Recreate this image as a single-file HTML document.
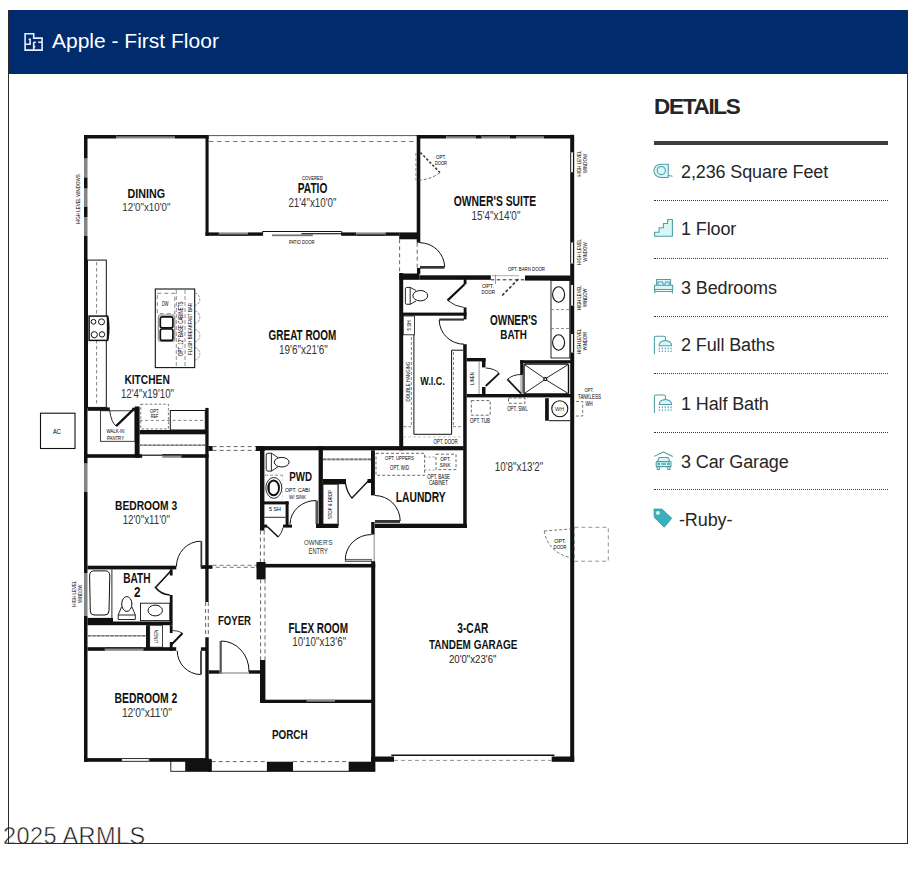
<!DOCTYPE html>
<html><head><meta charset="utf-8">
<style>
html,body{margin:0;padding:0;background:#fff;width:920px;height:874px;overflow:hidden;position:relative;font-family:"Liberation Sans",sans-serif;}
#card{position:absolute;z-index:5;left:8px;top:10px;width:898px;height:833px;border:1px solid #2b2b2b;border-top:none;}
#hdr{position:absolute;left:8px;top:10px;width:900px;height:64px;background:#002c6e;}
#hdr .t{position:absolute;left:44px;top:19px;font-size:21px;color:#fff;line-height:24px;white-space:nowrap;}
#hdr svg{position:absolute;left:15px;top:22px;}
#det{position:absolute;left:0;top:0;}
.h{position:absolute;left:654px;top:94px;font-size:22.5px;font-weight:bold;color:#262626;letter-spacing:-1.3px;line-height:26px;}
.rule{position:absolute;left:654px;top:141px;width:234px;height:3.5px;background:#3a3f45;}
.dot{position:absolute;left:654px;width:234px;height:0;border-top:1.3px dotted #3a3a3a;}
.row{position:absolute;left:681px;font-size:18px;color:#262626;line-height:20px;white-space:nowrap;letter-spacing:-0.12px;}
.ic{position:absolute;left:653px;}
#plan{position:absolute;left:0;top:0;}
.wm{position:absolute;left:3px;top:822.5px;font-size:23.5px;letter-spacing:0.4px;line-height:27px;color:#1a1a1a;white-space:nowrap;-webkit-text-stroke:0.5px #fff;}
</style></head>
<body>
<div id="card"></div>
<div id="hdr">
<svg width="22" height="22" viewBox="0 0 22 22"><path d="M2.1 1.8H10.7V6.1H19.1V18.1H2.1Z M2.1 12.2H7.1V7.2H5.6 M10.7 10.3V18.1 M10.7 10.3H12.8 M15.2 10.3H19.1 M10.7 14.6H12.2" fill="none" stroke="#e8eefc" stroke-width="1.6"/></svg>
<div class="t">Apple - First Floor</div>
</div>

<div class="h">DETAILS</div>
<div class="rule"></div>
<div class="dot" style="top:200px"></div>
<div class="dot" style="top:258px"></div>
<div class="dot" style="top:316px"></div>
<div class="dot" style="top:373px"></div>
<div class="dot" style="top:432px"></div>
<div class="dot" style="top:489px"></div>
<div class="row" style="top:162px">2,236 Square Feet</div>
<div class="row" style="top:219px">1 Floor</div>
<div class="row" style="top:278px">3 Bedrooms</div>
<div class="row" style="top:335px">2 Full Baths</div>
<div class="row" style="top:394px">1 Half Bath</div>
<div class="row" style="top:452px">3 Car Garage</div>
<div class="row" style="top:510px;left:679px">-Ruby-</div>

<svg style="position:absolute;left:0;top:0" width="920" height="874" viewBox="0 0 920 874">
<g fill="#d6f6f8" stroke="#4d9ea5" stroke-width="1.05" stroke-linejoin="round">
<path d="M668.3 164.2 H660.5 A6.6 6.6 0 0 0 660.5 177.4 H668.3 Z"/>
<circle cx="661.3" cy="170.6" r="4.1" fill="none"/>
<path d="M668.3 175.5 L672.6 176.2" fill="none"/>
<path d="M654.6 236.3 V232.3 H659.1 V227.7 H663.4 V223.5 H667.6 V219.5 H672.4 V236.3 Z"/>
<path d="M656.6 285.2 V279.5 H670.6 V285.2"/>
<path d="M658 284.8 V282 H662.6 L663.4 284.8 M664.8 284.8 L665.6 282 H669.2 V284.8" fill="none"/>
<rect x="654.5" y="285.2" width="18.2" height="4.2"/>
<path d="M654.5 291.4 H672.7 M654.8 289.4 V293.4 M672.4 289.4 V293.4" fill="none"/>
<path d="M654.4 354.3 V337.5 Q654.4 336.3 655.6 336.3 H664.2 Q665.4 336.3 665.4 337.5 V340.4" fill="none"/>
<path d="M659.1 345.7 Q659.5 341 665.4 340.6 Q671.3 341 671.7 345.7 Z"/>
<g transform="translate(0,58.8)"><path d="M654.4 354.3 V337.5 Q654.4 336.3 655.6 336.3 H664.2 Q665.4 336.3 665.4 337.5 V340.4" fill="none"/>
<path d="M659.1 345.7 Q659.5 341 665.4 340.6 Q671.3 341 671.7 345.7 Z"/></g>
</g>
<g fill="#4d9ea5">
<rect x="658.8" y="347.6" width="1.1" height="1.8"/><rect x="661.8" y="347.6" width="1.1" height="1.8"/><rect x="664.7" y="347.6" width="1.1" height="1.8"/><rect x="667.7" y="347.6" width="1.1" height="1.8"/><rect x="670.5" y="347.6" width="1.1" height="1.8"/>
<rect x="658.8" y="350.6" width="1.1" height="1.4"/><rect x="661.8" y="350.6" width="1.1" height="1.4"/><rect x="664.7" y="350.6" width="1.1" height="1.4"/><rect x="667.7" y="350.6" width="1.1" height="1.4"/><rect x="670.5" y="350.6" width="1.1" height="1.4"/>
<g transform="translate(0,58.8)"><rect x="658.8" y="347.6" width="1.1" height="1.8"/><rect x="661.8" y="347.6" width="1.1" height="1.8"/><rect x="664.7" y="347.6" width="1.1" height="1.8"/><rect x="667.7" y="347.6" width="1.1" height="1.8"/><rect x="670.5" y="347.6" width="1.1" height="1.8"/>
<rect x="658.8" y="350.6" width="1.1" height="1.4"/><rect x="661.8" y="350.6" width="1.1" height="1.4"/><rect x="664.7" y="350.6" width="1.1" height="1.4"/><rect x="667.7" y="350.6" width="1.1" height="1.4"/><rect x="670.5" y="350.6" width="1.1" height="1.4"/></g>
</g>
<g fill="#d6f6f8" stroke="#4d9ea5" stroke-width="1.05" stroke-linejoin="round">
<path d="M654.2 456.4 L663.4 452 L672.8 456.4" fill="none"/>
<path d="M657.6 461.7 L658.6 458.2 Q659 457.4 660 457.4 H667.2 Q668.2 457.4 668.6 458.2 L669.6 461.7"/>
<path d="M656.2 462.2 Q656.2 461.6 657 461.6 H670.2 Q671 461.6 671 462.2 V466.6 H656.2 Z"/>
<path d="M657.2 466.6 V469.4 H659.4 V466.6 M667.8 466.6 V469.4 H670 V466.6" fill="none"/>
<circle cx="658.7" cy="464.1" r="0.9" fill="none"/><circle cx="668.5" cy="464.1" r="0.9" fill="none"/>
<path d="M661.2 464 H666" fill="none" stroke-width="1.4"/>
</g>
<path d="M654.1 509 L661.9 509.1 L671.8 518.2 L664.3 527.2 L654.2 517.4 Z" fill="#3daebd" stroke="#2f9aa6" stroke-width="0.8" stroke-linejoin="round"/>
<circle cx="657.9" cy="512.9" r="1.9" fill="#d4fbf6"/>
</svg>


<svg id="plan" width="920" height="874" viewBox="0 0 920 874">
<g>
<rect x="84.0" y="135.0" width="32.6" height="3.5" fill="#111"/>
<rect x="116.6" y="135.0" width="58.3" height="3.5" fill="#8a8a8a"/>
<rect x="116.6" y="135.0" width="58.3" height="1.3" fill="#111"/>
<rect x="174.9" y="135.0" width="33.7" height="3.5" fill="#111"/>
<line x1="208.6" y1="135.6" x2="417.0" y2="135.6" stroke="#555" stroke-width="1"/>
<rect x="417.0" y="135.0" width="29.4" height="3.5" fill="#111"/>
<rect x="446.4" y="135.0" width="29.3" height="3.5" fill="#8a8a8a"/>
<rect x="446.4" y="135.0" width="29.3" height="1.3" fill="#111"/>
<rect x="475.7" y="135.0" width="6.0" height="3.5" fill="#111"/>
<rect x="481.7" y="135.0" width="28.3" height="3.5" fill="#8a8a8a"/>
<rect x="481.7" y="135.0" width="28.3" height="1.3" fill="#111"/>
<rect x="510.0" y="135.0" width="6.0" height="3.5" fill="#111"/>
<rect x="516.0" y="135.0" width="28.0" height="3.5" fill="#8a8a8a"/>
<rect x="516.0" y="135.0" width="28.0" height="1.3" fill="#111"/>
<rect x="544.0" y="135.0" width="29.8" height="3.5" fill="#111"/>
<rect x="84.0" y="135.0" width="3.5" height="23.6" fill="#111"/>
<rect x="84.0" y="158.6" width="3.5" height="18.9" fill="#858585"/>
<rect x="84.0" y="177.5" width="3.5" height="11.1" fill="#111"/>
<rect x="84.0" y="188.6" width="3.5" height="18.1" fill="#858585"/>
<rect x="84.0" y="206.7" width="3.5" height="10.3" fill="#111"/>
<rect x="84.0" y="217.0" width="3.5" height="18.8" fill="#858585"/>
<rect x="84.0" y="235.8" width="3.5" height="227.8" fill="#111"/>
<rect x="84.0" y="463.6" width="3.5" height="28.4" fill="#858585"/>
<rect x="84.0" y="492.0" width="3.5" height="81.0" fill="#111"/>
<rect x="84.0" y="573.0" width="3.5" height="43.0" fill="#858585"/>
<rect x="84.0" y="616.0" width="3.5" height="145.8" fill="#111"/>
<rect x="84.0" y="758.1" width="37.0" height="3.7" fill="#111"/>
<rect x="121.5" y="758.6" width="27.7" height="2.7" fill="none" stroke="#111" stroke-width="0.9"/>
<rect x="149.6" y="758.1" width="59.1" height="3.7" fill="#111"/>
<rect x="570.2" y="134.8" width="4.0" height="17.8" fill="#111"/>
<rect x="570.2" y="152.6" width="1.2" height="19.6" fill="#111"/>
<rect x="573.0" y="152.6" width="1.2" height="19.6" fill="#111"/>
<rect x="571.4" y="152.6" width="1.6" height="19.6" fill="#f2f2f2"/>
<rect x="570.2" y="172.2" width="4.0" height="70.5" fill="#111"/>
<rect x="570.2" y="242.7" width="1.2" height="20.8" fill="#111"/>
<rect x="573.0" y="242.7" width="1.2" height="20.8" fill="#111"/>
<rect x="571.4" y="242.7" width="1.6" height="20.8" fill="#f2f2f2"/>
<rect x="570.2" y="263.5" width="4.0" height="21.5" fill="#111"/>
<rect x="570.2" y="285.0" width="1.2" height="20.5" fill="#111"/>
<rect x="573.0" y="285.0" width="1.2" height="20.5" fill="#111"/>
<rect x="571.4" y="285.0" width="1.6" height="20.5" fill="#f2f2f2"/>
<rect x="570.2" y="305.5" width="4.0" height="28.5" fill="#111"/>
<rect x="570.2" y="334.0" width="1.2" height="18.5" fill="#111"/>
<rect x="573.0" y="334.0" width="1.2" height="18.5" fill="#111"/>
<rect x="571.4" y="334.0" width="1.6" height="18.5" fill="#f2f2f2"/>
<rect x="570.2" y="352.5" width="4.0" height="409.3" fill="#111"/>
<rect x="371.0" y="756.5" width="23.0" height="5.3" fill="#111"/>
<rect x="551.7" y="756.5" width="22.5" height="5.3" fill="#111"/>
<line x1="391.3" y1="755.2" x2="554.4" y2="755.2" stroke="#111" stroke-width="1.6"/>
<line x1="394.0" y1="760.4" x2="551.7" y2="760.4" stroke="#777" stroke-width="0.8" stroke-dasharray="4 3"/>
<rect x="371.2" y="522.0" width="3.4" height="12.6" fill="#111"/>
<rect x="371.2" y="561.2" width="4.0" height="210.0" fill="#111"/>
<line x1="374.2" y1="534.6" x2="374.2" y2="561.2" stroke="#666" stroke-width="0.8"/>
<rect x="345.3" y="559.3" width="26.2" height="2.2" fill="#bbb" stroke="#333" stroke-width="0.7"/>
<path d="M371.3 534.6 A26 25 0 0 0 345.3 559.5" stroke="#111" stroke-width="1" fill="none"/>
<rect x="205.3" y="637.3" width="3.4" height="133.9" fill="#111"/>
<rect x="170.8" y="759.3" width="40.2" height="12.0" fill="none" stroke="#111" stroke-width="0.9"/>
<rect x="185.2" y="759.5" width="26.5" height="11.7" fill="#111"/>
<rect x="266.9" y="761.7" width="26.1" height="9.5" fill="#111"/>
<rect x="348.7" y="761.7" width="26.5" height="9.5" fill="#111"/>
<line x1="211.7" y1="761.6" x2="266.9" y2="761.6" stroke="#555" stroke-width="0.9" stroke-dasharray="4 3"/>
<line x1="293.0" y1="761.6" x2="348.7" y2="761.6" stroke="#555" stroke-width="0.9" stroke-dasharray="4 3"/>
<line x1="208.0" y1="771.3" x2="375.2" y2="771.3" stroke="#111" stroke-width="1"/>
<rect x="208.7" y="670.3" width="10.9" height="3.4" fill="#111"/>
<rect x="249.0" y="670.3" width="11.7" height="3.4" fill="#111"/>
<rect x="219.6" y="641.0" width="2.2" height="32.7" fill="#555"/>
<path d="M221 641 A28 30 0 0 1 249 672" stroke="#111" stroke-width="1" fill="none"/>
<line x1="219.6" y1="673.0" x2="249.0" y2="673.0" stroke="#777" stroke-width="1"/>
<rect x="256.5" y="563.9" width="118.7" height="3.6" fill="#111"/>
<rect x="256.5" y="562.0" width="9.1" height="17.4" fill="#111"/>
<line x1="260.6" y1="579.4" x2="260.6" y2="660.0" stroke="#555" stroke-width="0.9" stroke-dasharray="4 3"/>
<line x1="265.0" y1="579.4" x2="265.0" y2="660.0" stroke="#555" stroke-width="0.9" stroke-dasharray="4 3"/>
<rect x="260.0" y="660.0" width="5.4" height="43.0" fill="#111"/>
<rect x="260.0" y="699.7" width="112.0" height="3.3" fill="#111"/>
<rect x="306.6" y="699.7" width="28.4" height="3.3" fill="#8a8a8a"/>
<rect x="306.6" y="701.7" width="28.4" height="1.3" fill="#111"/>
<line x1="208.7" y1="567.3" x2="256.5" y2="567.3" stroke="#666" stroke-width="0.9" stroke-dasharray="4 3"/>
<rect x="205.3" y="407.9" width="3.3" height="194.1" fill="#111"/>
<line x1="205.6" y1="602.0" x2="205.6" y2="637.3" stroke="#555" stroke-width="0.9" stroke-dasharray="4 3"/>
<line x1="208.3" y1="602.0" x2="208.3" y2="637.3" stroke="#555" stroke-width="0.9" stroke-dasharray="4 3"/>
<rect x="200.8" y="565.2" width="11.6" height="3.6" fill="#111"/>
<line x1="212.5" y1="565.3" x2="256.5" y2="565.3" stroke="#666" stroke-width="0.9" stroke-dasharray="4 3"/>
<rect x="84.0" y="454.2" width="58.2" height="3.6" fill="#111"/>
<line x1="142.2" y1="455.2" x2="162.2" y2="455.2" stroke="#111" stroke-width="1.2"/>
<rect x="162.2" y="454.2" width="19.1" height="3.6" fill="#8a8a8a"/>
<rect x="162.2" y="454.2" width="19.1" height="1.3" fill="#111"/>
<rect x="181.3" y="454.2" width="27.3" height="3.6" fill="#111"/>
<rect x="87.5" y="565.7" width="88.8" height="3.7" fill="#111"/>
<rect x="200.5" y="541.2" width="1.7" height="25.8" fill="#333"/>
<path d="M176.4 566.5 A24.5 25.5 0 0 1 200.8 541.2" stroke="#111" stroke-width="1" fill="none"/>
<rect x="169.8" y="569.4" width="2.8" height="6.1" fill="#111"/>
<rect x="169.8" y="595.0" width="2.8" height="30.2" fill="#111"/>
<path d="M171.7 570 L155.5 587.5 A20 20 0 0 0 169.8 595" stroke="#111" stroke-width="1.6" fill="none"/>
<rect x="87.5" y="617.9" width="25.5" height="7.3" fill="#111"/>
<rect x="113.0" y="621.5" width="58.7" height="3.7" fill="#111"/>
<line x1="111.9" y1="569.4" x2="111.9" y2="617.9" stroke="#111" stroke-width="0.9"/>
<path d="M93.5 570.9 H105.5 Q109.8 571 109.8 576 L109 611 Q108.8 615 105 615 H94 Q90.4 615 90.3 611 L89.6 576 Q89.6 571 93.5 570.9 Z" stroke="#111" stroke-width="1" fill="none"/>
<ellipse cx="126.8" cy="604" rx="5.1" ry="7.4" fill="none" stroke="#111" stroke-width="1"/>
<path d="M121.5 607 L118.2 615 V619.5 H135.3 V615 L132 607 M118.2 615 H135.3" stroke="#111" stroke-width="0.9" fill="none"/>
<rect x="140.5" y="603.2" width="29.3" height="17.4" fill="none" stroke="#111" stroke-width="0.9"/>
<ellipse cx="155.2" cy="610.5" rx="7.2" ry="5.4" fill="none" stroke="#111" stroke-width="1"/>
<rect x="146.0" y="625.2" width="3.7" height="23.8" fill="#111"/>
<line x1="88.0" y1="635.8" x2="146.0" y2="635.8" stroke="#aaa" stroke-width="1.6"/>
<line x1="88.0" y1="635.8" x2="146.0" y2="635.8" stroke="#777" stroke-width="1.6" stroke-dasharray="3 1.5"/>
<rect x="149.7" y="625.2" width="12.8" height="22.0" fill="none" stroke="#111" stroke-width="0.8"/>
<rect x="169.8" y="625.2" width="2.8" height="7.8" fill="#111"/>
<rect x="169.8" y="642.0" width="2.8" height="8.8" fill="#111"/>
<line x1="170.8" y1="645.2" x2="182.5" y2="633.2" stroke="#111" stroke-width="2"/>
<path d="M172.6 630.5 Q178.5 630.5 182.5 633.2" stroke="#111" stroke-width="0.8" fill="none"/>
<rect x="87.5" y="647.2" width="17.4" height="3.6" fill="#111"/>
<rect x="104.9" y="647.2" width="38.4" height="3.6" fill="#8a8a8a"/>
<rect x="104.9" y="647.2" width="38.4" height="1.3" fill="#111"/>
<rect x="143.3" y="647.2" width="32.9" height="3.6" fill="#111"/>
<rect x="200.2" y="650.8" width="1.6" height="23.8" fill="#222"/>
<rect x="200.9" y="647.3" width="5.6" height="3.5" fill="#111"/>
<path d="M177.2 650.8 A24 24 0 0 0 200.6 674.6" stroke="#111" stroke-width="1" fill="none"/>
<rect x="87.5" y="407.4" width="22.3" height="3.4" fill="#111"/>
<rect x="134.7" y="406.5" width="4.9" height="51.3" fill="#111"/>
<rect x="100.4" y="410.8" width="34.6" height="30.5" fill="none" stroke="#111" stroke-width="0.8"/>
<path d="M109.7 410.5 Q111 422 116.1 426.1" stroke="#111" stroke-width="0.9" fill="none"/>
<line x1="116.1" y1="426.1" x2="133.7" y2="409.1" stroke="#111" stroke-width="2.2"/>
<rect x="132.3" y="407.7" width="6.4" height="2.8" fill="#111"/>
<rect x="170.3" y="410.5" width="35.0" height="19.5" fill="none" stroke="#111" stroke-width="1"/>
<rect x="140.8" y="404.2" width="27.6" height="24.7" fill="none" stroke="#555" stroke-width="0.8" stroke-dasharray="2.5 2"/>
<line x1="139.6" y1="420.4" x2="205.3" y2="420.4" stroke="#666" stroke-width="0.8" stroke-dasharray="3 2.5"/>
<rect x="139.6" y="430.0" width="66.9" height="4.3" fill="#111"/>
<line x1="139.4" y1="445.3" x2="205.1" y2="445.3" stroke="#aaa" stroke-width="1.6"/>
<line x1="139.4" y1="445.3" x2="205.1" y2="445.3" stroke="#777" stroke-width="1.6" stroke-dasharray="3 1.5"/>
<rect x="87.5" y="260.1" width="18.8" height="147.3" fill="none" stroke="#111" stroke-width="1"/>
<line x1="96.6" y1="262.0" x2="96.6" y2="405.0" stroke="#666" stroke-width="0.8" stroke-dasharray="3.5 2.5"/>
<rect x="89.1" y="316.1" width="18.5" height="24.3" fill="#fff" stroke="#111" stroke-width="1.5"/>
<path d="M107.6 317 Q109.6 328 107.6 339.5" stroke="#111" stroke-width="2" fill="none"/>
<circle cx="93.5" cy="321.8" r="2.4" fill="none" stroke="#111" stroke-width="1"/>
<circle cx="101.5" cy="321.8" r="3" fill="none" stroke="#111" stroke-width="1"/>
<circle cx="94.3" cy="334.7" r="3.1" fill="none" stroke="#111" stroke-width="1"/>
<circle cx="102" cy="334.4" r="2.7" fill="none" stroke="#111" stroke-width="1"/>
<rect x="155.3" y="289.0" width="39.4" height="78.6" fill="none" stroke="#111" stroke-width="1.1"/>
<rect x="157.3" y="293.3" width="17.5" height="20.4" fill="none" stroke="#666" stroke-width="0.8" stroke-dasharray="4 3"/>
<path d="M160.3 315.1 H172.8 Q174.8 315.1 174.8 317.1 V339.4 Q174.8 341.4 172.8 341.4 H160.3 Q158.3 341.4 158.3 339.4 V317.1 Q158.3 315.1 160.3 315.1 Z" stroke="#555" stroke-width="0.8" fill="none"/>
<path d="M162.2 316.8 H171 Q172.9 316.8 172.9 318.7 V325.9 Q172.9 327.8 171 327.8 H162.2 Q160.3 327.8 160.3 325.9 V318.7 Q160.3 316.8 162.2 316.8 Z" stroke="#111" stroke-width="1.7" fill="none"/>
<path d="M162.2 329 H171 Q172.9 329 172.9 330.9 V338.5 Q172.9 340.4 171 340.4 H162.2 Q160.3 340.4 160.3 338.5 V330.9 Q160.3 329 162.2 329 Z" stroke="#111" stroke-width="1.7" fill="none"/>
<line x1="176.3" y1="290.0" x2="176.3" y2="367.0" stroke="#777" stroke-width="0.8" stroke-dasharray="4 2"/>
<line x1="185.0" y1="290.0" x2="185.0" y2="367.0" stroke="#777" stroke-width="0.8" stroke-dasharray="4 2"/>
<path d="M194.9 293.0 A6.5 6.5 0 0 1 194.9 305.6" stroke="#777" stroke-width="0.8" fill="none" stroke-dasharray="2.5 1.2"/>
<path d="M194.9 311.0 A6.5 6.5 0 0 1 194.9 323.6" stroke="#777" stroke-width="0.8" fill="none" stroke-dasharray="2.5 1.2"/>
<path d="M194.9 329.4 A6.5 6.5 0 0 1 194.9 342.0" stroke="#777" stroke-width="0.8" fill="none" stroke-dasharray="2.5 1.2"/>
<path d="M194.9 347.5 A6.5 6.5 0 0 1 194.9 360.1" stroke="#777" stroke-width="0.8" fill="none" stroke-dasharray="2.5 1.2"/>
<rect x="205.5" y="135.0" width="3.1" height="100.8" fill="#111"/>
<rect x="205.5" y="232.4" width="13.4" height="3.4" fill="#111"/>
<rect x="218.9" y="232.4" width="29.1" height="3.4" fill="#8a8a8a"/>
<rect x="218.9" y="234.5" width="29.1" height="1.3" fill="#111"/>
<rect x="248.0" y="232.4" width="14.6" height="3.4" fill="#111"/>
<line x1="262.6" y1="231.5" x2="341.6" y2="231.5" stroke="#111" stroke-width="1"/>
<line x1="262.6" y1="231.5" x2="262.6" y2="235.5" stroke="#111" stroke-width="1"/>
<line x1="341.6" y1="231.5" x2="341.6" y2="235.5" stroke="#111" stroke-width="1"/>
<rect x="272.0" y="234.4" width="40.8" height="1.8" fill="#777"/>
<rect x="301.5" y="233.1" width="39.8" height="1.2" fill="#222"/>
<rect x="341.6" y="232.4" width="14.7" height="3.4" fill="#111"/>
<rect x="356.3" y="232.4" width="29.2" height="3.4" fill="#8a8a8a"/>
<rect x="356.3" y="234.5" width="29.2" height="1.3" fill="#111"/>
<rect x="385.5" y="232.4" width="13.7" height="3.4" fill="#111"/>
<rect x="399.2" y="232.4" width="18.0" height="6.9" fill="#111"/>
<line x1="209.0" y1="141.5" x2="417.0" y2="141.5" stroke="#666" stroke-width="0.9" stroke-dasharray="4.5 3.5"/>
<rect x="416.7" y="135.0" width="3.6" height="107.7" fill="#111"/>
<rect x="417.0" y="267.9" width="3.3" height="6.3" fill="#111"/>
<rect x="420.0" y="266.0" width="24.5" height="2.7" fill="#333"/>
<path d="M419.5 242.7 A25 25 0 0 1 444.7 267" stroke="#111" stroke-width="1" fill="none"/>
<line x1="399.6" y1="239.3" x2="399.6" y2="273.0" stroke="#555" stroke-width="0.9" stroke-dasharray="4 3"/>
<line x1="417.2" y1="242.7" x2="417.2" y2="268.0" stroke="#555" stroke-width="0.9" stroke-dasharray="4 3"/>
<line x1="420.4" y1="152.4" x2="440.0" y2="172.6" stroke="#333" stroke-width="1.5" stroke-dasharray="2.5 1.8"/>
<path d="M440 172.6 Q430 180 416.5 180.4" stroke="#444" stroke-width="0.8" fill="none" stroke-dasharray="3 2"/>
<line x1="415.9" y1="153.0" x2="415.9" y2="180.4" stroke="#666" stroke-width="0.7" stroke-dasharray="3 2"/>
<rect x="399.2" y="273.0" width="4.0" height="177.3" fill="#111"/>
<rect x="399.2" y="273.5" width="20.1" height="6.3" fill="#111"/>
<rect x="419.3" y="275.3" width="71.5" height="4.5" fill="#111"/>
<rect x="525.0" y="275.5" width="45.7" height="5.1" fill="#111"/>
<line x1="490.8" y1="279.8" x2="525.0" y2="279.8" stroke="#222" stroke-width="1" stroke-dasharray="3.5 2.5"/>
<line x1="491.5" y1="275.7" x2="519.0" y2="275.7" stroke="#777" stroke-width="0.6"/>
<line x1="495.5" y1="275.0" x2="495.5" y2="284.0" stroke="#555" stroke-width="0.6"/>
<line x1="502.2" y1="295.5" x2="519.1" y2="278.3" stroke="#333" stroke-width="1.6" stroke-dasharray="3 2"/>
<rect x="463.7" y="277.4" width="2.8" height="6.9" fill="#111"/>
<rect x="463.7" y="307.4" width="2.8" height="12.0" fill="#111"/>
<line x1="464.6" y1="284.3" x2="447.6" y2="300.4" stroke="#111" stroke-width="2.2"/>
<path d="M447.6 300.4 Q455 306.5 463.7 307.4" stroke="#111" stroke-width="0.9" fill="none"/>
<rect x="403.0" y="312.6" width="63.5" height="3.1" fill="#111"/>
<path d="M406.8 287.4 H410.2 L416 290.5 M410.2 304.3 L416 301 M406.8 287.4 Q405.4 287.4 405.4 289 V302.7 Q405.4 304.3 406.8 304.3 H410.2 V287.4" stroke="#111" stroke-width="0.9" fill="none"/>
<ellipse cx="420.3" cy="295.7" rx="7.4" ry="5.2" fill="none" stroke="#111" stroke-width="1"/>
<rect x="439.2" y="318.5" width="24.8" height="2.1" fill="#333"/>
<path d="M439.2 320 A24.8 24.5 0 0 0 464 344.2" stroke="#111" stroke-width="1" fill="none"/>
<rect x="463.2" y="344.2" width="3.5" height="182.8" fill="#111"/>
<rect x="403.2" y="316.0" width="11.3" height="18.8" fill="none" stroke="#111" stroke-width="0.8"/>
<line x1="413.9" y1="334.8" x2="413.9" y2="434.3" stroke="#111" stroke-width="1"/>
<line x1="411.4" y1="337.0" x2="411.4" y2="426.8" stroke="#666" stroke-width="0.8" stroke-dasharray="3 2"/>
<path d="M463.2 350.2 H451.6 V434.3 H413.9" stroke="#111" stroke-width="1" fill="none"/>
<line x1="453.5" y1="352.0" x2="453.5" y2="426.8" stroke="#666" stroke-width="0.8" stroke-dasharray="3 2"/>
<line x1="403.0" y1="436.9" x2="463.0" y2="436.9" stroke="#aaa" stroke-width="0.6" stroke-dasharray="3 2"/>
<line x1="403.5" y1="426.7" x2="411.0" y2="426.7" stroke="#666" stroke-width="0.8" stroke-dasharray="3 2"/>
<line x1="453.0" y1="426.7" x2="463.0" y2="426.7" stroke="#666" stroke-width="0.8" stroke-dasharray="3 2"/>
<rect x="466.7" y="394.0" width="106.8" height="3.4" fill="#111"/>
<rect x="466.7" y="358.0" width="18.8" height="3.4" fill="#111"/>
<rect x="482.0" y="358.0" width="3.5" height="9.4" fill="#111"/>
<rect x="482.0" y="387.0" width="3.5" height="8.7" fill="#111"/>
<line x1="479.1" y1="361.4" x2="479.1" y2="394.0" stroke="#777" stroke-width="0.8"/>
<line x1="485.7" y1="386.0" x2="499.2" y2="373.4" stroke="#111" stroke-width="1.8"/>
<path d="M485.7 368 Q495 368.5 499.2 373.4" stroke="#111" stroke-width="0.9" fill="none"/>
<rect x="520.2" y="360.2" width="50.5" height="3.0" fill="#111"/>
<rect x="520.2" y="360.2" width="3.0" height="14.4" fill="#111"/>
<path d="M525.5 364 H567 Q568.5 364 568.5 365.5 V392.5 Q568.5 394 567 394 H525.5 Q524 394 524 392.5 V365.5 Q524 364 525.5 364 Z" stroke="#111" stroke-width="1.4" fill="none"/>
<line x1="525.0" y1="365.0" x2="544.0" y2="378.0" stroke="#111" stroke-width="0.9"/>
<line x1="546.5" y1="380.2" x2="567.5" y2="393.0" stroke="#111" stroke-width="0.9"/>
<line x1="567.5" y1="365.0" x2="546.5" y2="378.0" stroke="#111" stroke-width="0.9"/>
<line x1="544.0" y1="380.2" x2="525.0" y2="393.0" stroke="#111" stroke-width="0.9"/>
<circle cx="545.3" cy="379.1" r="1.5" fill="none" stroke="#111" stroke-width="1.3"/>
<line x1="507.4" y1="379.3" x2="521.0" y2="393.5" stroke="#111" stroke-width="1.8"/>
<path d="M507.4 379.3 Q513 374.5 521 374.5" stroke="#111" stroke-width="0.9" fill="none"/>
<rect x="521.0" y="374.5" width="1.6" height="19.0" fill="none" stroke="#111" stroke-width="0.5"/>
<rect x="551.0" y="280.4" width="18.8" height="77.6" fill="none" stroke="#111" stroke-width="0.9"/>
<ellipse cx="558.6" cy="294.5" rx="6" ry="7.7" fill="none" stroke="#111" stroke-width="1.1"/>
<ellipse cx="558.6" cy="342.5" rx="6" ry="7.7" fill="none" stroke="#111" stroke-width="1.1"/>
<line x1="551.0" y1="309.6" x2="569.8" y2="309.6" stroke="#666" stroke-width="0.7" stroke-dasharray="3 2"/>
<line x1="551.0" y1="328.5" x2="569.8" y2="328.5" stroke="#666" stroke-width="0.7" stroke-dasharray="3 2"/>
<rect x="545.1" y="398.2" width="3.7" height="22.5" fill="#111"/>
<line x1="548.8" y1="420.7" x2="570.0" y2="420.7" stroke="#111" stroke-width="1"/>
<circle cx="559.8" cy="408.8" r="8" fill="none" stroke="#111" stroke-width="1.1"/>
<rect x="471.3" y="400.6" width="18.9" height="14.6" fill="none" stroke="#444" stroke-width="0.8" stroke-dasharray="3 2"/>
<rect x="508.5" y="398.0" width="16.5" height="5.3" fill="none" stroke="#444" stroke-width="0.8" stroke-dasharray="3 2"/>
<path d="M576 401.5 H582.7 V416 H576" stroke="#555" stroke-width="0.8" fill="none" stroke-dasharray="3 2"/>
<rect x="255.8" y="446.1" width="207.9" height="4.2" fill="#111"/>
<rect x="256.0" y="446.1" width="8.8" height="4.9" fill="#111"/>
<rect x="208.3" y="446.0" width="4.3" height="5.0" fill="#111"/>
<line x1="212.6" y1="446.6" x2="256.0" y2="446.6" stroke="#555" stroke-width="0.9" stroke-dasharray="4 3"/>
<line x1="212.6" y1="450.4" x2="256.0" y2="450.4" stroke="#555" stroke-width="0.9" stroke-dasharray="4 3"/>
<rect x="260.0" y="446.0" width="4.4" height="84.6" fill="#111"/>
<line x1="260.4" y1="530.6" x2="260.4" y2="562.0" stroke="#555" stroke-width="0.9" stroke-dasharray="4 3"/>
<line x1="264.2" y1="530.6" x2="264.2" y2="562.0" stroke="#555" stroke-width="0.9" stroke-dasharray="4 3"/>
<rect x="318.6" y="446.0" width="4.3" height="81.0" fill="#111"/>
<path d="M268 453.2 H271.4 L278 457.6 M271.4 471.1 L278 466.8 M268 453.2 Q266.2 453.2 266.2 455 V469.3 Q266.2 471.1 268 471.1 H271.4 V453.2" stroke="#111" stroke-width="0.9" fill="none"/>
<ellipse cx="281.7" cy="462.2" rx="7.4" ry="4.8" fill="none" stroke="#111" stroke-width="1"/>
<line x1="265.0" y1="475.2" x2="283.0" y2="475.2" stroke="#666" stroke-width="0.7" stroke-dasharray="3 2"/>
<ellipse cx="273.8" cy="487.9" rx="8" ry="10.4" fill="none" stroke="#111" stroke-width="0.9"/>
<ellipse cx="273.6" cy="487.9" rx="5.4" ry="7.4" fill="none" stroke="#111" stroke-width="1.9"/>
<line x1="269.5" y1="483.0" x2="269.5" y2="493.0" stroke="#111" stroke-width="0.7"/>
<line x1="282.4" y1="475.2" x2="282.4" y2="500.0" stroke="#999" stroke-width="0.5" stroke-dasharray="2 2"/>
<rect x="262.9" y="501.4" width="25.7" height="3.0" fill="#111"/>
<rect x="285.6" y="501.4" width="3.0" height="24.5" fill="#111"/>
<line x1="264.4" y1="517.3" x2="285.6" y2="517.3" stroke="#111" stroke-width="0.9"/>
<rect x="262.9" y="524.6" width="4.3" height="3.0" fill="#111"/>
<rect x="283.0" y="524.6" width="9.0" height="3.0" fill="#111"/>
<line x1="267.2" y1="526.5" x2="278.3" y2="537.0" stroke="#111" stroke-width="1.6"/>
<path d="M278.3 537 Q282 533 283 527.6" stroke="#111" stroke-width="0.9" fill="none"/>
<rect x="315.5" y="500.5" width="2.5" height="23.5" fill="#555"/>
<path d="M316 500.5 A26 24 0 0 0 290 524" stroke="#111" stroke-width="1" fill="none"/>
<rect x="316.0" y="523.7" width="22.3" height="4.3" fill="#111"/>
<rect x="323.0" y="479.0" width="23.0" height="5.2" fill="#111"/>
<rect x="367.5" y="479.0" width="4.3" height="4.0" fill="#111"/>
<path d="M345.3 482.5 Q347 493 352 498 L369.2 480" stroke="#111" stroke-width="1.3" fill="none"/>
<rect x="323.0" y="484.2" width="15.3" height="41.2" fill="none" stroke="#111" stroke-width="0.8"/>
<line x1="337.6" y1="485.0" x2="337.6" y2="524.0" stroke="#888" stroke-width="1.3"/>
<line x1="323.0" y1="459.4" x2="371.0" y2="459.4" stroke="#aaa" stroke-width="1.6"/>
<line x1="323.0" y1="459.4" x2="371.0" y2="459.4" stroke="#777" stroke-width="1.6" stroke-dasharray="3 1.5"/>
<rect x="371.0" y="450.3" width="3.9" height="45.1" fill="#111"/>
<rect x="374.9" y="520.0" width="25.1" height="2.9" fill="#333"/>
<path d="M374.9 495.5 A25.5 25.5 0 0 1 400.2 521" stroke="#111" stroke-width="1" fill="none"/>
<rect x="374.9" y="523.7" width="92.1" height="4.3" fill="#111"/>
<rect x="376.0" y="453.3" width="48.6" height="22.0" fill="none" stroke="#444" stroke-width="0.8" stroke-dasharray="3 2"/>
<rect x="436.0" y="454.2" width="20.0" height="15.4" fill="none" stroke="#444" stroke-width="0.8" stroke-dasharray="3 2"/>
<line x1="424.6" y1="457.0" x2="436.0" y2="457.0" stroke="#666" stroke-width="0.7" stroke-dasharray="2 2"/>
<line x1="424.6" y1="470.0" x2="436.0" y2="470.0" stroke="#666" stroke-width="0.7" stroke-dasharray="2 2"/>
<rect x="574.4" y="527.3" width="33.9" height="33.9" fill="none" stroke="#777" stroke-width="0.8" stroke-dasharray="4 3"/>
<path d="M544.2 531 L570 529 M544.2 531 Q548 552 569.8 557.5" stroke="#555" stroke-width="0.8" fill="none" stroke-dasharray="3 2"/>
<rect x="40.5" y="413.2" width="34.5" height="35.3" fill="none" stroke="#111" stroke-width="1.1"/>
</g>
<g font-family="Liberation Sans, sans-serif">
<text x="127.5" y="197.6" font-size="13.52" font-weight="bold" fill="#111" textLength="37.5" lengthAdjust="spacingAndGlyphs">DINING</text>
<text x="122.3" y="211.0" font-size="11.34" font-weight="normal" fill="#333" textLength="48.1" lengthAdjust="spacingAndGlyphs">12'0"x10'0"</text>
<text x="302.0" y="180.0" font-size="6.10" font-weight="normal" fill="#000" textLength="21.0" lengthAdjust="spacingAndGlyphs">COVERED</text>
<text x="297.8" y="193.0" font-size="14.24" font-weight="bold" fill="#111" textLength="29.5" lengthAdjust="spacingAndGlyphs">PATIO</text>
<text x="288.4" y="206.7" font-size="12.65" font-weight="normal" fill="#333" textLength="48.0" lengthAdjust="spacingAndGlyphs">21'4"x10'0"</text>
<text x="288.9" y="244.0" font-size="5.81" font-weight="normal" fill="#000" textLength="25.7" lengthAdjust="spacingAndGlyphs">PATIO DOOR</text>
<text x="453.8" y="206.2" font-size="14.24" font-weight="bold" fill="#111" textLength="82.3" lengthAdjust="spacingAndGlyphs">OWNER'S SUITE</text>
<text x="471.5" y="220.4" font-size="12.50" font-weight="normal" fill="#333" textLength="48.9" lengthAdjust="spacingAndGlyphs">15'4"x14'0"</text>
<text x="436.0" y="158.5" font-size="5.81" font-weight="normal" fill="#000" textLength="10.0" lengthAdjust="spacingAndGlyphs">OPT.</text>
<text x="435.0" y="165.2" font-size="6.10" font-weight="normal" fill="#000" textLength="12.0" lengthAdjust="spacingAndGlyphs">DOOR</text>
<text x="124.4" y="383.7" font-size="12.50" font-weight="bold" fill="#111" textLength="45.4" lengthAdjust="spacingAndGlyphs">KITCHEN</text>
<text x="121.0" y="398.3" font-size="12.50" font-weight="normal" fill="#333" textLength="53.0" lengthAdjust="spacingAndGlyphs">12'4"x19'10"</text>
<text x="268.6" y="340.0" font-size="13.81" font-weight="bold" fill="#111" textLength="67.8" lengthAdjust="spacingAndGlyphs">GREAT ROOM</text>
<text x="279.0" y="354.2" font-size="13.23" font-weight="normal" fill="#333" textLength="48.9" lengthAdjust="spacingAndGlyphs">19'6"x21'6"</text>
<text x="420.3" y="384.6" font-size="11.34" font-weight="bold" fill="#111" textLength="24.6" lengthAdjust="spacingAndGlyphs">W.I.C.</text>
<text x="490.0" y="324.5" font-size="13.81" font-weight="bold" fill="#111" textLength="47.2" lengthAdjust="spacingAndGlyphs">OWNER'S</text>
<text x="500.3" y="339.0" font-size="13.52" font-weight="bold" fill="#111" textLength="26.7" lengthAdjust="spacingAndGlyphs">BATH</text>
<text x="482.0" y="287.5" font-size="5.81" font-weight="normal" fill="#000" textLength="12.0" lengthAdjust="spacingAndGlyphs">OPT.</text>
<text x="481.5" y="294.0" font-size="5.81" font-weight="normal" fill="#000" textLength="13.5" lengthAdjust="spacingAndGlyphs">DOOR</text>
<text x="508.0" y="270.8" font-size="6.25" font-weight="normal" fill="#000" textLength="37.0" lengthAdjust="spacingAndGlyphs">OPT. BARN DOOR</text>
<text x="115.0" y="509.6" font-size="13.23" font-weight="bold" fill="#111" textLength="62.2" lengthAdjust="spacingAndGlyphs">BEDROOM 3</text>
<text x="122.7" y="524.0" font-size="13.08" font-weight="normal" fill="#333" textLength="47.2" lengthAdjust="spacingAndGlyphs">12'0"x11'0"</text>
<text x="289.3" y="480.8" font-size="12.50" font-weight="bold" fill="#111" textLength="22.8" lengthAdjust="spacingAndGlyphs">PWD</text>
<text x="285.0" y="492.0" font-size="5.81" font-weight="normal" fill="#000" textLength="25.0" lengthAdjust="spacingAndGlyphs">OPT. CABI</text>
<text x="289.0" y="498.5" font-size="5.81" font-weight="normal" fill="#000" textLength="17.0" lengthAdjust="spacingAndGlyphs">W/ SINK</text>
<text x="395.8" y="502.3" font-size="13.81" font-weight="bold" fill="#111" textLength="49.8" lengthAdjust="spacingAndGlyphs">LAUNDRY</text>
<text x="494.8" y="471.0" font-size="11.92" font-weight="normal" fill="#333" textLength="48.5" lengthAdjust="spacingAndGlyphs">10'8"x13'2"</text>
<text x="123.2" y="583.0" font-size="14.53" font-weight="bold" fill="#111" textLength="27.4" lengthAdjust="spacingAndGlyphs">BATH</text>
<text x="134.0" y="596.8" font-size="14.53" font-weight="bold" fill="#111" textLength="6.5" lengthAdjust="spacingAndGlyphs">2</text>
<text x="218.0" y="624.5" font-size="12.79" font-weight="bold" fill="#111" textLength="33.0" lengthAdjust="spacingAndGlyphs">FOYER</text>
<text x="288.5" y="632.9" font-size="14.39" font-weight="bold" fill="#111" textLength="59.5" lengthAdjust="spacingAndGlyphs">FLEX ROOM</text>
<text x="292.2" y="646.2" font-size="11.92" font-weight="normal" fill="#333" textLength="54.0" lengthAdjust="spacingAndGlyphs">10'10"x13'6"</text>
<text x="457.3" y="632.8" font-size="13.81" font-weight="bold" fill="#111" textLength="31.1" lengthAdjust="spacingAndGlyphs">3-CAR</text>
<text x="429.0" y="648.7" font-size="13.23" font-weight="bold" fill="#111" textLength="88.4" lengthAdjust="spacingAndGlyphs">TANDEM GARAGE</text>
<text x="448.9" y="662.9" font-size="11.34" font-weight="normal" fill="#222" textLength="47.6" lengthAdjust="spacingAndGlyphs">20'0"x23'6"</text>
<text x="114.5" y="703.2" font-size="14.24" font-weight="bold" fill="#111" textLength="62.8" lengthAdjust="spacingAndGlyphs">BEDROOM 2</text>
<text x="121.9" y="717.4" font-size="13.37" font-weight="normal" fill="#333" textLength="49.9" lengthAdjust="spacingAndGlyphs">12'0"x11'0"</text>
<text x="272.0" y="738.8" font-size="13.37" font-weight="bold" fill="#111" textLength="35.6" lengthAdjust="spacingAndGlyphs">PORCH</text>
<text x="304.0" y="544.6" font-size="7.85" font-weight="normal" fill="#333" textLength="28.5" lengthAdjust="spacingAndGlyphs">OWNER'S</text>
<text x="308.6" y="553.8" font-size="9.30" font-weight="normal" fill="#333" textLength="19.3" lengthAdjust="spacingAndGlyphs">ENTRY</text>
<text x="470.0" y="423.4" font-size="6.40" font-weight="normal" fill="#000" textLength="20.0" lengthAdjust="spacingAndGlyphs">OPT. TUB</text>
<text x="507.2" y="410.6" font-size="6.69" font-weight="normal" fill="#000" textLength="20.5" lengthAdjust="spacingAndGlyphs">OPT. SWL</text>
<text x="584.5" y="392.3" font-size="6.25" font-weight="normal" fill="#000" textLength="9.1" lengthAdjust="spacingAndGlyphs">OPT.</text>
<text x="578.0" y="399.3" font-size="6.83" font-weight="normal" fill="#000" textLength="23.0" lengthAdjust="spacingAndGlyphs">TANKLESS</text>
<text x="585.4" y="405.6" font-size="6.69" font-weight="normal" fill="#000" textLength="7.3" lengthAdjust="spacingAndGlyphs">WH</text>
<text x="554.3" y="542.5" font-size="5.81" font-weight="normal" fill="#000" textLength="11.9" lengthAdjust="spacingAndGlyphs">OPT.</text>
<text x="553.5" y="549.3" font-size="6.25" font-weight="normal" fill="#000" textLength="13.0" lengthAdjust="spacingAndGlyphs">DOOR</text>
<text x="106.4" y="432.5" font-size="5.81" font-weight="normal" fill="#000" textLength="18.0" lengthAdjust="spacingAndGlyphs">WALK-IN</text>
<text x="107.0" y="439.6" font-size="5.96" font-weight="normal" fill="#000" textLength="17.0" lengthAdjust="spacingAndGlyphs">PANTRY</text>
<text x="150.0" y="412.7" font-size="6.25" font-weight="normal" fill="#000" textLength="9.2" lengthAdjust="spacingAndGlyphs">OPT.</text>
<text x="150.7" y="418.3" font-size="6.25" font-weight="normal" fill="#000" textLength="7.8" lengthAdjust="spacingAndGlyphs">REF</text>
<text x="53.0" y="433.5" font-size="6.54" font-weight="normal" fill="#000" textLength="8.0" lengthAdjust="spacingAndGlyphs">AC</text>
<text x="433.6" y="444.0" font-size="6.40" font-weight="normal" fill="#000" textLength="24.0" lengthAdjust="spacingAndGlyphs">OPT. DOOR</text>
<text x="440.2" y="461.0" font-size="5.96" font-weight="normal" fill="#000" textLength="10.3" lengthAdjust="spacingAndGlyphs">OPT.</text>
<text x="439.7" y="467.2" font-size="6.10" font-weight="normal" fill="#000" textLength="10.8" lengthAdjust="spacingAndGlyphs">SINK</text>
<text x="427.3" y="479.1" font-size="6.83" font-weight="normal" fill="#000" textLength="22.7" lengthAdjust="spacingAndGlyphs">OPT. BASE</text>
<text x="428.9" y="484.8" font-size="6.83" font-weight="normal" fill="#000" textLength="19.1" lengthAdjust="spacingAndGlyphs">CABINET</text>
<text x="385.0" y="459.5" font-size="6.10" font-weight="normal" fill="#000" textLength="28.9" lengthAdjust="spacingAndGlyphs">OPT. UPPERS</text>
<text x="390.1" y="470.3" font-size="6.69" font-weight="normal" fill="#000" textLength="19.1" lengthAdjust="spacingAndGlyphs">OPT. W/D</text>
<text x="269.0" y="510.5" font-size="5.81" font-weight="normal" fill="#000" textLength="12.0" lengthAdjust="spacingAndGlyphs">5 SH</text>
<text x="162.0" y="306.0" font-size="6.54" font-weight="normal" fill="#000" textLength="6.5" lengthAdjust="spacingAndGlyphs">DW</text>
<text x="555" y="411" font-size="5.5" fill="#333">WH</text>
<text transform="translate(78.0,199.2) rotate(-90)" x="-24.9" y="2.0" font-size="5.81" font-weight="normal" fill="#000" textLength="49.7" lengthAdjust="spacingAndGlyphs">HIGH LEVEL WINDOWS</text>
<text transform="translate(578.5,163.5) rotate(-90)" x="-13.0" y="2.0" font-size="5.81" font-weight="normal" fill="#000" textLength="26.0" lengthAdjust="spacingAndGlyphs">HIGH LEVEL</text>
<text transform="translate(585.2,163.5) rotate(-90)" x="-9.8" y="2.0" font-size="5.81" font-weight="normal" fill="#000" textLength="19.5" lengthAdjust="spacingAndGlyphs">WINDOW</text>
<text transform="translate(578.5,252.0) rotate(-90)" x="-13.0" y="2.0" font-size="5.81" font-weight="normal" fill="#000" textLength="26.0" lengthAdjust="spacingAndGlyphs">HIGH LEVEL</text>
<text transform="translate(585.2,252.0) rotate(-90)" x="-9.8" y="2.0" font-size="5.81" font-weight="normal" fill="#000" textLength="19.5" lengthAdjust="spacingAndGlyphs">WINDOW</text>
<text transform="translate(578.5,297.8) rotate(-90)" x="-12.5" y="2.0" font-size="5.81" font-weight="normal" fill="#000" textLength="25.0" lengthAdjust="spacingAndGlyphs">HIGH LEVEL</text>
<text transform="translate(585.2,297.8) rotate(-90)" x="-9.2" y="2.0" font-size="5.81" font-weight="normal" fill="#000" textLength="18.5" lengthAdjust="spacingAndGlyphs">WINDOW</text>
<text transform="translate(578.5,341.3) rotate(-90)" x="-12.5" y="2.0" font-size="5.81" font-weight="normal" fill="#000" textLength="25.0" lengthAdjust="spacingAndGlyphs">HIGH LEVEL</text>
<text transform="translate(585.2,341.3) rotate(-90)" x="-9.2" y="2.0" font-size="5.81" font-weight="normal" fill="#000" textLength="18.5" lengthAdjust="spacingAndGlyphs">WINDOW</text>
<text transform="translate(74.5,593.7) rotate(-90)" x="-13.0" y="1.8" font-size="5.23" font-weight="normal" fill="#000" textLength="26.0" lengthAdjust="spacingAndGlyphs">HIGH LEVEL</text>
<text transform="translate(80.3,593.7) rotate(-90)" x="-9.0" y="1.8" font-size="5.23" font-weight="normal" fill="#000" textLength="18.0" lengthAdjust="spacingAndGlyphs">WINDOW</text>
<text transform="translate(409.0,325.4) rotate(-90)" x="-5.0" y="1.9" font-size="5.52" font-weight="normal" fill="#000" textLength="10.0" lengthAdjust="spacingAndGlyphs">5 SH</text>
<text transform="translate(408.0,381.5) rotate(-90)" x="-20.0" y="1.9" font-size="5.52" font-weight="normal" fill="#000" textLength="40.0" lengthAdjust="spacingAndGlyphs">DOUBLE HANGING</text>
<text transform="translate(472.5,378.5) rotate(-90)" x="-6.5" y="1.8" font-size="5.23" font-weight="normal" fill="#000" textLength="13.0" lengthAdjust="spacingAndGlyphs">LINEN</text>
<text transform="translate(155.8,636.5) rotate(-90)" x="-7.0" y="1.8" font-size="5.23" font-weight="normal" fill="#000" textLength="14.0" lengthAdjust="spacingAndGlyphs">LINEN</text>
<text transform="translate(330.0,504.5) rotate(-90)" x="-14.5" y="1.9" font-size="5.52" font-weight="normal" fill="#000" textLength="29.0" lengthAdjust="spacingAndGlyphs">STOP &amp; DROP</text>
<text transform="translate(180.9,328.8) rotate(-90)" x="-27.2" y="2.3" font-size="6.69" font-weight="normal" fill="#000" textLength="54.5" lengthAdjust="spacingAndGlyphs">OPT. 12" BASE CABINETS</text>
<text transform="translate(189.6,329.0) rotate(-90)" x="-26.0" y="2.1" font-size="6.25" font-weight="normal" fill="#000" textLength="52.0" lengthAdjust="spacingAndGlyphs">FLUSH BREAKFAST BAR</text>
</g>
</svg>

<div class="wm">2025 ARMLS</div>
</body></html>
